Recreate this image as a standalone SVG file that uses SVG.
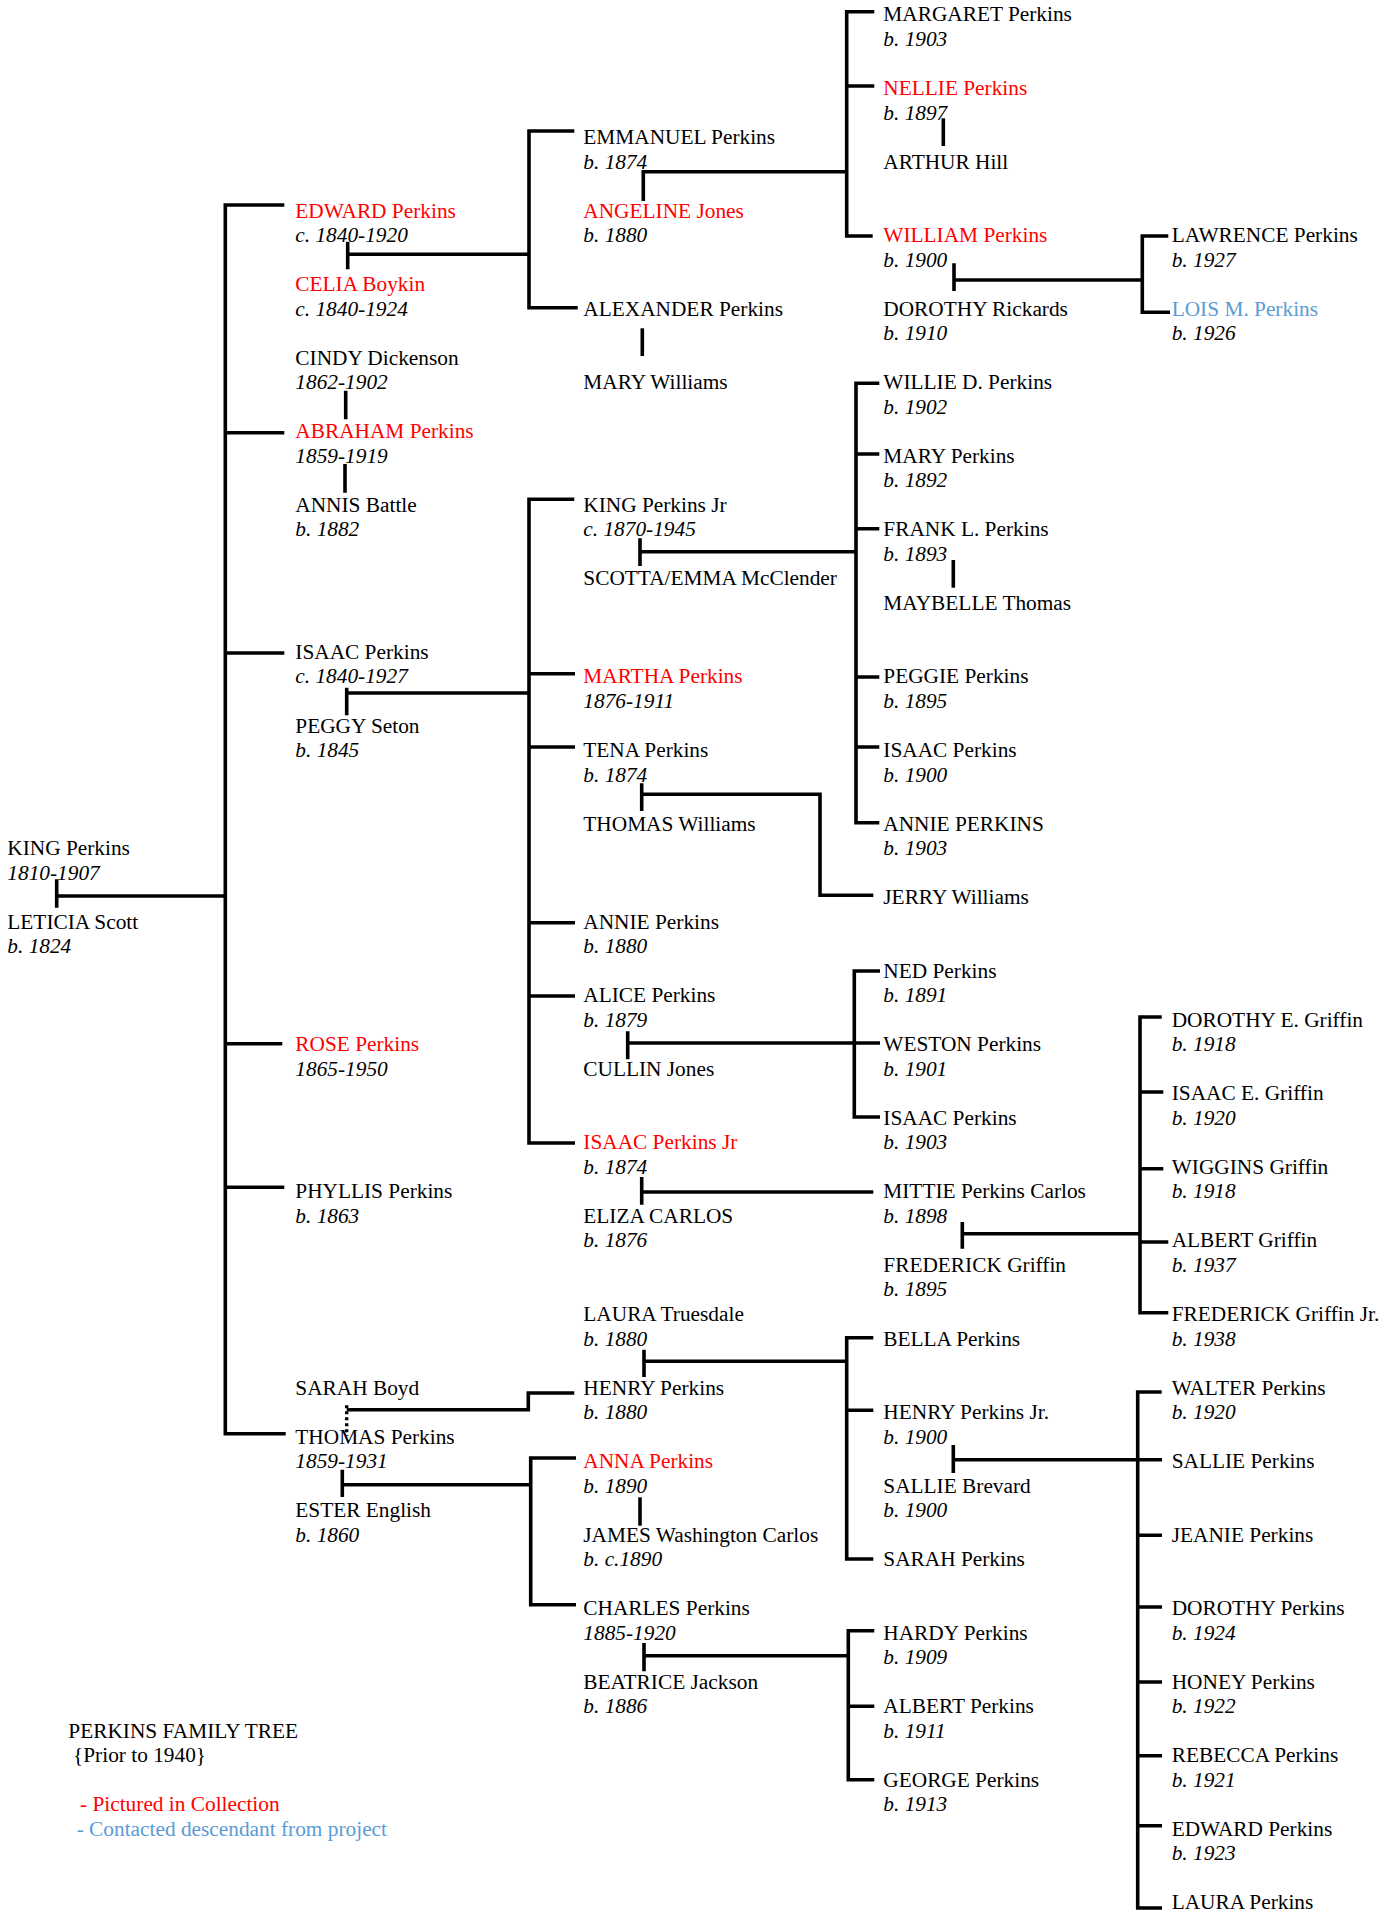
<svg xmlns="http://www.w3.org/2000/svg" width="1380" height="1923" viewBox="0 0 1380 1923">
<style>
text{font-family:"Liberation Serif","Times New Roman",serif;font-size:21.33px;fill:#000}
.d{font-style:italic}
.r{fill:#ff0000}
.b{fill:#5b9bd5}
.ln{fill:none;stroke:#000;stroke-width:3.6;stroke-linejoin:miter;stroke-linecap:butt}
.dot{fill:none;stroke:#000;stroke-width:3.4;stroke-dasharray:3,3}
</style>
<rect width="1380" height="1923" fill="#fff"/>
<g id="connectors">
<path class="ln" d="M284.3,205 H225.3 V1433.7 H285.7 M225.3,432.7 H284.3 M225.3,653 H284.3 M225.3,1043.7 H282.3 M225.3,1187.3 H284.3"/>
<path class="ln" d="M56.7,879.3 V907.7 M56.7,896 H225.3"/>
<path class="ln" d="M347.7,241.7 V269.3 M347.7,254.3 H529"/>
<path class="ln" d="M574.3,131 H529 V307.7 H577.7"/>
<path class="ln" d="M345.7,390.7 V419.3 M345,464 V492.7"/>
<path class="ln" d="M643.3,201 V171.7 H846.7"/>
<path class="ln" d="M874.3,11.7 H846.7 V236 H872.7 M846.7,86 H874.3"/>
<path class="ln" d="M642.3,328.3 V356"/>
<path class="ln" d="M943.3,118.3 V146"/>
<path class="ln" d="M954,263.3 V291 M954,280 H1142.3"/>
<path class="ln" d="M1168.3,236 H1142.3 V312.3 H1170"/>
<path class="ln" d="M346.7,687.7 V715.3 M346.7,693 H529"/>
<path class="ln" d="M574.3,499.3 H529 V1143 H575 M529,673.7 H575 M529,747 H575 M529,922.7 H575 M529,996 H575"/>
<path class="ln" d="M640,538.3 V566 M640,551.7 H856"/>
<path class="ln" d="M879.3,383.3 H856 V822.7 H879.3 M856,454 H879.3 M856,528.7 H879.3 M856,677 H879.3 M856,747 H879.3"/>
<path class="ln" d="M953.3,560 V587.7"/>
<path class="ln" d="M641.7,783.3 V811 M641.7,794.3 H820 V895.3 H873.3"/>
<path class="ln" d="M627.7,1031.3 V1059.3 M627.7,1043 H880"/>
<path class="ln" d="M880,971 H854.3 V1117 H880"/>
<path class="ln" d="M641.7,1177 V1204.7 M641.7,1192 H873.3"/>
<path class="ln" d="M962.3,1222 V1248.7 M962.3,1233.7 H1140"/>
<path class="ln" d="M1161.7,1017 H1140 V1312.7 H1168.3 M1140,1092 H1163.3 M1140,1168.7 H1163.3 M1140,1242 H1168.3"/>
<path class="dot" d="M346.7,1405.3 V1436"/>
<path class="ln" d="M346.7,1409.7 H528.3 V1393 H574.3"/>
<path class="ln" d="M644,1349.7 V1377 M644,1361.3 H846.7"/>
<path class="ln" d="M873.3,1337.7 H846.7 V1559 H873.3 M846.7,1410.3 H873.3"/>
<path class="ln" d="M342.3,1469.7 V1497 M342.3,1484.7 H530.7"/>
<path class="ln" d="M576,1458 H530.7 V1604.7 H576"/>
<path class="ln" d="M640,1497.3 V1525.7"/>
<path class="ln" d="M644,1643 V1671.3 M644,1655.7 H848.3"/>
<path class="ln" d="M874.3,1630.7 H848.3 V1779.7 H874.3 M848.3,1706.3 H874.3"/>
<path class="ln" d="M953.3,1445 V1473 M953.3,1459.7 H1162"/>
<path class="ln" d="M1161.7,1392 H1137.7 V1908 H1162 M1137.7,1535.3 H1162 M1137.7,1607 H1162 M1137.7,1682 H1162 M1137.7,1755.7 H1162 M1137.7,1825.7 H1162"/>
</g>
<g id="n-king"><text x="7.3" y="855.1">KING Perkins</text><text class="d" x="7.3" y="879.6">1810-1907</text></g>
<g id="n-leticia"><text x="7.3" y="928.6">LETICIA Scott</text><text class="d" x="7.3" y="953.2">b. 1824</text></g>
<g id="n-edward"><text class="r" x="295.3" y="217.6">EDWARD Perkins</text><text class="d" x="295.3" y="242.1">c. 1840-1920</text></g>
<g id="n-celia"><text class="r" x="295.3" y="291.1">CELIA Boykin</text><text class="d" x="295.3" y="315.6">c. 1840-1924</text></g>
<g id="n-cindy"><text x="295.3" y="364.7">CINDY Dickenson</text><text class="d" x="295.3" y="389.2">1862-1902</text></g>
<g id="n-abraham"><text class="r" x="295.3" y="438.2">ABRAHAM Perkins</text><text class="d" x="295.3" y="462.8">1859-1919</text></g>
<g id="n-annis"><text x="295.3" y="511.8">ANNIS Battle</text><text class="d" x="295.3" y="536.3">b. 1882</text></g>
<g id="n-isaac"><text x="295.3" y="658.9">ISAAC Perkins</text><text class="d" x="295.3" y="683.4">c. 1840-1927</text></g>
<g id="n-peggy"><text x="295.3" y="732.5">PEGGY Seton</text><text class="d" x="295.3" y="757.0">b. 1845</text></g>
<g id="n-rose"><text class="r" x="295.3" y="1051.2">ROSE Perkins</text><text class="d" x="295.3" y="1075.8">1865-1950</text></g>
<g id="n-phyllis"><text x="295.3" y="1198.4">PHYLLIS Perkins</text><text class="d" x="295.3" y="1222.9">b. 1863</text></g>
<g id="n-sarahboyd"><text x="295.3" y="1394.5">SARAH Boyd</text></g>
<g id="n-thomas"><text x="295.3" y="1443.6">THOMAS Perkins</text><text class="d" x="295.3" y="1468.1">1859-1931</text></g>
<g id="n-ester"><text x="295.3" y="1517.1">ESTER English</text><text class="d" x="295.3" y="1541.6">b. 1860</text></g>
<g id="legend"><text x="68.3" y="1737.8">PERKINS FAMILY TREE</text><text x="73" y="1762.3">{Prior to 1940}</text><text class="r" x="80" y="1811.4">- Pictured in Collection</text><text class="b" x="76.7" y="1835.9">- Contacted descendant from project</text></g>
<g id="n-emmanuel"><text x="583.3" y="144.0">EMMANUEL Perkins</text><text class="d" x="583.3" y="168.5">b. 1874</text></g>
<g id="n-angeline"><text class="r" x="583.3" y="217.6">ANGELINE Jones</text><text class="d" x="583.3" y="242.1">b. 1880</text></g>
<g id="n-alexander"><text x="583.3" y="315.6">ALEXANDER Perkins</text></g>
<g id="n-marywilliams"><text x="583.3" y="389.2">MARY Williams</text></g>
<g id="n-kingjr"><text x="583.3" y="511.8">KING Perkins Jr</text><text class="d" x="583.3" y="536.3">c. 1870-1945</text></g>
<g id="n-scotta"><text x="583.3" y="585.4">SCOTTA/EMMA McClender</text></g>
<g id="n-martha"><text class="r" x="583.3" y="683.4">MARTHA Perkins</text><text class="d" x="583.3" y="708.0">1876-1911</text></g>
<g id="n-tena"><text x="583.3" y="757.0">TENA Perkins</text><text class="d" x="583.3" y="781.5">b. 1874</text></g>
<g id="n-thomaswilliams"><text x="583.3" y="830.6">THOMAS Williams</text></g>
<g id="n-annie"><text x="583.3" y="928.6">ANNIE Perkins</text><text class="d" x="583.3" y="953.2">b. 1880</text></g>
<g id="n-alice"><text x="583.3" y="1002.2">ALICE Perkins</text><text class="d" x="583.3" y="1026.7">b. 1879</text></g>
<g id="n-cullin"><text x="583.3" y="1075.8">CULLIN Jones</text></g>
<g id="n-isaacjr"><text class="r" x="583.3" y="1149.3">ISAAC Perkins Jr</text><text class="d" x="583.3" y="1173.8">b. 1874</text></g>
<g id="n-eliza"><text x="583.3" y="1222.9">ELIZA CARLOS</text><text class="d" x="583.3" y="1247.4">b. 1876</text></g>
<g id="n-laurat"><text x="583.3" y="1321.0">LAURA Truesdale</text><text class="d" x="583.3" y="1345.5">b. 1880</text></g>
<g id="n-henry"><text x="583.3" y="1394.5">HENRY Perkins</text><text class="d" x="583.3" y="1419.0">b. 1880</text></g>
<g id="n-anna"><text class="r" x="583.3" y="1468.1">ANNA Perkins</text><text class="d" x="583.3" y="1492.6">b. 1890</text></g>
<g id="n-james"><text x="583.3" y="1541.6">JAMES Washington Carlos</text><text class="d" x="583.3" y="1566.2">b. c.1890</text></g>
<g id="n-charles"><text x="583.3" y="1615.2">CHARLES Perkins</text><text class="d" x="583.3" y="1639.7">1885-1920</text></g>
<g id="n-beatrice"><text x="583.3" y="1688.8">BEATRICE Jackson</text><text class="d" x="583.3" y="1713.3">b. 1886</text></g>
<g id="n-margaret"><text x="883.3" y="21.4">MARGARET Perkins</text><text class="d" x="883.3" y="45.9">b. 1903</text></g>
<g id="n-nellie"><text class="r" x="883.3" y="95.0">NELLIE Perkins</text><text class="d" x="883.3" y="119.5">b. 1897</text></g>
<g id="n-arthur"><text x="883.3" y="168.5">ARTHUR Hill</text></g>
<g id="n-william"><text class="r" x="883.3" y="242.1">WILLIAM Perkins</text><text class="d" x="883.3" y="266.6">b. 1900</text></g>
<g id="n-dorothyr"><text x="883.3" y="315.6">DOROTHY Rickards</text><text class="d" x="883.3" y="340.2">b. 1910</text></g>
<g id="n-willie"><text x="883.3" y="389.2">WILLIE D. Perkins</text><text class="d" x="883.3" y="413.7">b. 1902</text></g>
<g id="n-mary"><text x="883.3" y="462.8">MARY Perkins</text><text class="d" x="883.3" y="487.3">b. 1892</text></g>
<g id="n-frank"><text x="883.3" y="536.3">FRANK L. Perkins</text><text class="d" x="883.3" y="560.8">b. 1893</text></g>
<g id="n-maybelle"><text x="883.3" y="609.9">MAYBELLE Thomas</text></g>
<g id="n-peggie"><text x="883.3" y="683.4">PEGGIE Perkins</text><text class="d" x="883.3" y="708.0">b. 1895</text></g>
<g id="n-isaac3a"><text x="883.3" y="757.0">ISAAC Perkins</text><text class="d" x="883.3" y="781.5">b. 1900</text></g>
<g id="n-annie3"><text x="883.3" y="830.6">ANNIE PERKINS</text><text class="d" x="883.3" y="855.1">b. 1903</text></g>
<g id="n-jerry"><text x="883.3" y="904.1">JERRY Williams</text></g>
<g id="n-ned"><text x="883.3" y="977.7">NED Perkins</text><text class="d" x="883.3" y="1002.2">b. 1891</text></g>
<g id="n-weston"><text x="883.3" y="1051.2">WESTON Perkins</text><text class="d" x="883.3" y="1075.8">b. 1901</text></g>
<g id="n-isaac3b"><text x="883.3" y="1124.8">ISAAC Perkins</text><text class="d" x="883.3" y="1149.3">b. 1903</text></g>
<g id="n-mittie"><text x="883.3" y="1198.4">MITTIE Perkins Carlos</text><text class="d" x="883.3" y="1222.9">b. 1898</text></g>
<g id="n-frederick"><text x="883.3" y="1271.9">FREDERICK Griffin</text><text class="d" x="883.3" y="1296.4">b. 1895</text></g>
<g id="n-bella"><text x="883.3" y="1345.5">BELLA Perkins</text></g>
<g id="n-henryjr"><text x="883.3" y="1419.0">HENRY Perkins Jr.</text><text class="d" x="883.3" y="1443.6">b. 1900</text></g>
<g id="n-sallieb"><text x="883.3" y="1492.6">SALLIE Brevard</text><text class="d" x="883.3" y="1517.1">b. 1900</text></g>
<g id="n-sarahp"><text x="883.3" y="1566.2">SARAH Perkins</text></g>
<g id="n-hardy"><text x="883.3" y="1639.7">HARDY Perkins</text><text class="d" x="883.3" y="1664.2">b. 1909</text></g>
<g id="n-albertp"><text x="883.3" y="1713.3">ALBERT Perkins</text><text class="d" x="883.3" y="1737.8">b. 1911</text></g>
<g id="n-george"><text x="883.3" y="1786.8">GEORGE Perkins</text><text class="d" x="883.3" y="1811.4">b. 1913</text></g>
<g id="n-lawrence"><text x="1171.7" y="242.1">LAWRENCE Perkins</text><text class="d" x="1171.7" y="266.6">b. 1927</text></g>
<g id="n-lois"><text class="b" x="1171.7" y="315.6">LOIS M. Perkins</text><text class="d" x="1171.7" y="340.2">b. 1926</text></g>
<g id="n-dorothye"><text x="1171.7" y="1026.7">DOROTHY E. Griffin</text><text class="d" x="1171.7" y="1051.2">b. 1918</text></g>
<g id="n-isaace"><text x="1171.7" y="1100.3">ISAAC E. Griffin</text><text class="d" x="1171.7" y="1124.8">b. 1920</text></g>
<g id="n-wiggins"><text x="1171.7" y="1173.8">WIGGINS Griffin</text><text class="d" x="1171.7" y="1198.4">b. 1918</text></g>
<g id="n-albertg"><text x="1171.7" y="1247.4">ALBERT Griffin</text><text class="d" x="1171.7" y="1271.9">b. 1937</text></g>
<g id="n-fredjr"><text x="1171.7" y="1321.0">FREDERICK Griffin Jr.</text><text class="d" x="1171.7" y="1345.5">b. 1938</text></g>
<g id="n-walter"><text x="1171.7" y="1394.5">WALTER Perkins</text><text class="d" x="1171.7" y="1419.0">b. 1920</text></g>
<g id="n-salliep"><text x="1171.7" y="1468.1">SALLIE Perkins</text></g>
<g id="n-jeanie"><text x="1171.7" y="1541.6">JEANIE Perkins</text></g>
<g id="n-dorothyp"><text x="1171.7" y="1615.2">DOROTHY Perkins</text><text class="d" x="1171.7" y="1639.7">b. 1924</text></g>
<g id="n-honey"><text x="1171.7" y="1688.8">HONEY Perkins</text><text class="d" x="1171.7" y="1713.3">b. 1922</text></g>
<g id="n-rebecca"><text x="1171.7" y="1762.3">REBECCA Perkins</text><text class="d" x="1171.7" y="1786.8">b. 1921</text></g>
<g id="n-edwardp"><text x="1171.7" y="1835.9">EDWARD Perkins</text><text class="d" x="1171.7" y="1860.4">b. 1923</text></g>
<g id="n-laurap"><text x="1171.7" y="1909.4">LAURA Perkins</text></g>
</svg>
